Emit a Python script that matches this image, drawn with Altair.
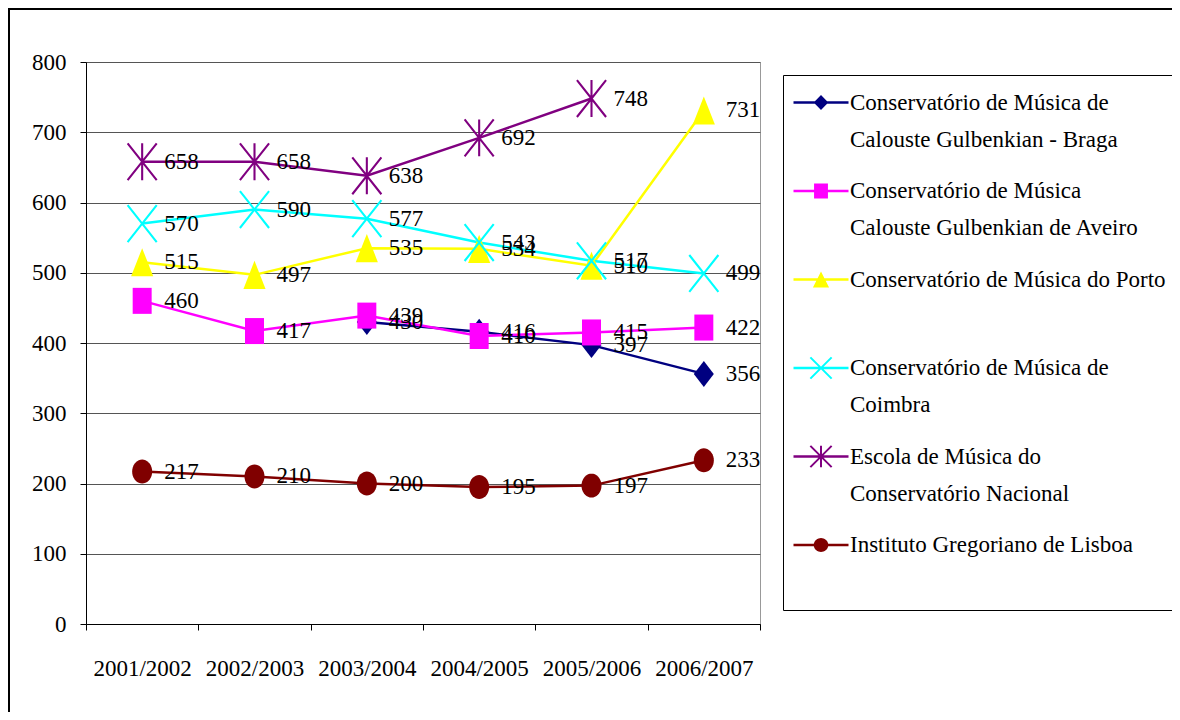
import math
import altair as alt
import pandas as pd

years = ["2001/2002", "2002/2003", "2003/2004", "2004/2005", "2005/2006", "2006/2007"]

series_names = [
    "Conservatório de Música de|Calouste Gulbenkian - Braga",
    "Conservatório de Música|Calouste Gulbenkian de Aveiro",
    "Conservatório de Música do Porto| ",
    "Conservatório de Música de|Coimbra",
    "Escola de Música do|Conservatório Nacional",
    "Instituto Gregoriano de Lisboa| ",
]

braga = [None, None, 430, 416, 397, 356]
aveiro = [460, 417, 439, 410, 415, 422]
porto = [515, 497, 535, 534, 510, 731]
coimbra = [570, 590, 577, 543, 517, 499]
escola = [658, 658, 638, 692, 748, None]
gregoriano = [217, 210, 200, 195, 197, 233]

series_values = [braga, aveiro, porto, coimbra, escola, gregoriano]
colors = ["#000080", "#FF00FF", "#FFFF00", "#00FFFF", "#800080", "#800000"]

rows = []
for name, vals in zip(series_names, series_values):
    for yr, v in zip(years, vals):
        if v is not None:
            rows.append({"series": name, "year": yr, "value": v})
df = pd.DataFrame(rows)
legend_df = pd.DataFrame({"series": series_names})


# ---- marker shapes (custom symbol paths, unit square [-1,1]) ----
def poly(pts, dy=0.0):
    return "M" + "L".join(f"{x:.3f},{y + dy:.3f}" for x, y in pts) + "Z"


def seg(x1, y1, x2, y2, w, dy=0.0):
    ddx, ddy = x2 - x1, y2 - y1
    L = math.hypot(ddx, ddy)
    nx, ny = -ddy / L * w, ddx / L * w
    return poly([(x1 - nx, y1 - ny), (x2 - nx, y2 - ny), (x2 + nx, y2 + ny), (x1 + nx, y1 + ny)], dy)


def ellipse(rx, ry, dy=0.0, n=36):
    return poly([(rx * math.cos(2 * math.pi * k / n), ry * math.sin(2 * math.pi * k / n)) for k in range(n)], dy)


def marker_paths(sx, sy, w, dy=0.0):
    diamond = poly([(0, -1 * sy), (0.77 * sx, 0), (0, 1 * sy), (-0.77 * sx, 0)], dy)
    square = poly([(-0.73 * sx, -1 * sy), (0.73 * sx, -1 * sy), (0.73 * sx, 1 * sy), (-0.73 * sx, 1 * sy)], dy)
    tri = poly([(0, -1.08 * sy), (0.85 * sx, 1.08 * sy), (-0.85 * sx, 1.08 * sy)], dy)
    xs = seg(-1.12 * sx, -1.42 * sy, 1.12 * sx, 1.42 * sy, w, dy) + seg(-1.12 * sx, 1.42 * sy, 1.12 * sx, -1.42 * sy, w, dy)
    star = xs + seg(0, -1.42 * sy, 0, 1.42 * sy, w, dy)
    circ = ellipse(0.77 * sx, 0.92 * sy, dy)
    return [diamond, square, tri, xs, star, circ]


plot_shapes = marker_paths(1.0, 1.0, 0.08)
leg_dy = 0.0
stub = poly([(-2.75, -0.12), (2.75, -0.12), (2.75, 0.12), (-2.75, 0.12)], leg_dy)
legend_shapes = [stub + m for m in marker_paths(0.95, 0.75, 0.1, leg_dy)]

FONT = "Liberation Serif"

x_enc = alt.X(
    "year:N",
    sort=years,
    scale=alt.Scale(type="band", paddingInner=0, paddingOuter=0),
    axis=alt.Axis(title=None, labelAngle=0, tickBand="extent", grid=False,
                  tickSize=6, labelPadding=27),
)
y_enc = alt.Y(
    "value:Q",
    scale=alt.Scale(domain=[0, 800], nice=False, zero=True),
    axis=alt.Axis(title=None, values=list(range(0, 801, 100)), grid=True,
                  tickSize=6, labelPadding=14),
)
col = alt.Color("series:N", scale=alt.Scale(domain=series_names, range=colors), legend=None)

base = alt.Chart(df)

lines = base.mark_line(strokeWidth=2.5).encode(x=x_enc, y=y_enc, color=col, detail="series:N")

points = base.mark_point(filled=True, opacity=1, size=676, strokeWidth=0).encode(
    x=x_enc, y=y_enc, color=col,
    shape=alt.Shape("series:N", scale=alt.Scale(domain=series_names, range=plot_shapes), legend=None),
)

labels = base.mark_text(align="left", baseline="middle", dx=22, font=FONT, fontSize=23, color="black").encode(
    x=x_enc, y=y_enc, text="value:Q"
)

leg = alt.Legend(
    title=None, orient="none", legendX=697, legendY=13,
    labelExpr="split(datum.label, '|')",
    labelFont=FONT, labelFontSize=23, labelColor="black", labelLimit=0,
    symbolSize=400, symbolOpacity=1, symbolStrokeWidth=0,
    symbolOffset=10.5, labelOffset=17.5,
    padding=16, rowPadding=27.5,
    strokeColor="black", fillColor="white",
)
legend_layer = alt.Chart(legend_df).mark_point(filled=True, opacity=0, size=400).encode(
    color=alt.Color("series:N", scale=alt.Scale(domain=series_names, range=colors), legend=leg),
    shape=alt.Shape("series:N", scale=alt.Scale(domain=series_names, range=legend_shapes), legend=leg),
)

frame_data = alt.Data(values=[{"a": 1}])
frame_left = alt.Chart(frame_data).mark_rule(color="black", strokeWidth=2).encode(
    x=alt.value(-77), y=alt.value(-53), y2=alt.value(700)
)
frame_top = alt.Chart(frame_data).mark_rule(color="black", strokeWidth=2).encode(
    x=alt.value(-78), x2=alt.value(1200), y=alt.value(-53)
)

chart = (
    alt.layer(lines, points, labels, legend_layer, frame_left, frame_top)
    .resolve_scale(color="independent", shape="independent")
    .properties(
        width=674, height=562,
        padding={"left": 78, "top": 54, "right": 412, "bottom": 88},
        autosize=alt.AutoSizeParams(type="none"),
    )
    .configure(background="white", style={"guide-label": {"lineHeight": 37}})
    .configure_view(fill="#C0C0C0", stroke="#999999", strokeWidth=1)
    .configure_axis(
        domainColor="black", domainWidth=1, tickColor="black", tickWidth=1,
        labelColor="black", labelFont=FONT, labelFontSize=23,
        gridColor="#555555", gridWidth=1, gridOpacity=1,
    )
)

chart.save("out.html", embed_options={"renderer": "svg", "actions": False})
